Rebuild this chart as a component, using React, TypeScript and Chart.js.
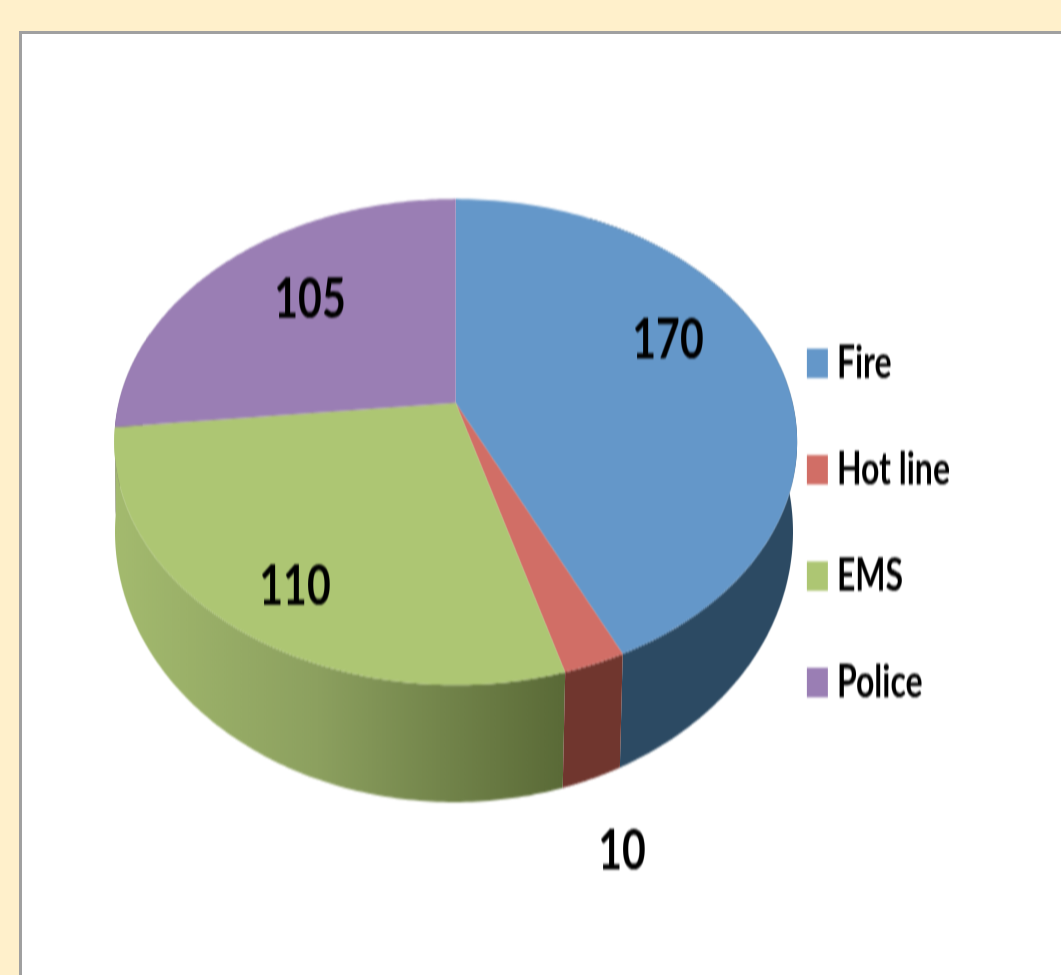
import React, { useEffect, useRef } from "react";
import { Chart, registerables } from "chart.js";

Chart.register(...registerables);

const categories = ["Fire", "Hot line", "EMS", "Police"];
const calls = [170, 10, 110, 105];
const faceColors = ["#6497C9", "#D16E66", "#ADC673", "#9A7EB4"];
const wallColors = ["#2C4A63", "#70362E", "#8A9E5E", "#6A5480"];

const STRETCH = 1.4;
const WIDTH = 1061;
const HEIGHT = 975;

// Perspective projection of the pie's unit disc to the page (page px).
const persp = -0.1605;
const topPlane = { cx: 455.7, a: 172.1, b: 403, d: 337 };
const lowPlane = { cx: 454, a: 185, b: 488.4, d: 334.6 };
function project(p: typeof topPlane, theta: number, r = 1) {
  const u = r * Math.sin(theta);
  const v = -r * Math.cos(theta);
  const w = 1 + persp * v;
  return { x: p.cx + (p.d * u) / w, y: ((p.a * v + p.b) / w) / STRETCH };
}

// Where each value label sits on the page, per slice.
const labelAnchors = [
  { x: 668, y: 340 },
  { x: 622, y: 851 },
  { x: 295, y: 586 },
  { x: 310, y: 299 },
];

const pie3d = {
  id: "pie3d",
  beforeDatasetsDraw(chart: any) {
    const ctx = chart.ctx as CanvasRenderingContext2D;
    const arcs = chart.getDatasetMeta(0).data;
    const turn = Math.PI / 2;
    const steps = 120;
    const drawOrder = [3, 0, 2, 1];
    // side walls
    for (const i of drawOrder) {
      const s = Math.max(arcs[i].startAngle + turn, 0.15 * Math.PI);
      const e = Math.min(arcs[i].endAngle + turn, 1.6 * Math.PI);
      if (e <= s) continue;
      ctx.beginPath();
      for (let k = 0; k <= steps; k++) {
        const p = project(topPlane, s + ((e - s) * k) / steps);
        k ? ctx.lineTo(p.x, p.y) : ctx.moveTo(p.x, p.y);
      }
      for (let k = steps; k >= 0; k--) {
        const p = project(lowPlane, s + ((e - s) * k) / steps);
        ctx.lineTo(p.x, p.y);
      }
      ctx.closePath();
      if (categories[i] === "EMS") {
        const g = ctx.createLinearGradient(116, 0, 562, 0);
        g.addColorStop(0, "#A3BA6E");
        g.addColorStop(0.45, "#8CA05F");
        g.addColorStop(1, "#5A6A37");
        ctx.fillStyle = g;
      } else {
        ctx.fillStyle = wallColors[i];
      }
      ctx.fill();
    }
    // top faces
    arcs.forEach((arc: any, i: number) => {
      const s = arc.startAngle + turn;
      const e = arc.endAngle + turn;
      const c = project(topPlane, 0, 0);
      ctx.beginPath();
      ctx.moveTo(c.x, c.y);
      for (let k = 0; k <= steps; k++) {
        const p = project(topPlane, s + ((e - s) * k) / steps);
        ctx.lineTo(p.x, p.y);
      }
      ctx.closePath();
      ctx.fillStyle = faceColors[i];
      ctx.fill();
    });
    // value labels
    ctx.save();
    ctx.fillStyle = "#000";
    ctx.font = 'bold 41px Lato, "Noto Sans", sans-serif';
    ctx.textAlign = "center";
    ctx.textBaseline = "middle";
    calls.forEach((v, i) => {
      ctx.fillText(String(v), labelAnchors[i].x, labelAnchors[i].y / STRETCH);
    });
    ctx.restore();
    return false;
  },
};

export default function App() {
  const ref = useRef<HTMLCanvasElement>(null);
  useEffect(() => {
    const chart = new Chart(ref.current as HTMLCanvasElement, {
      type: "pie",
      data: {
        labels: categories,
        datasets: [{ data: calls, backgroundColor: faceColors, borderWidth: 0 }],
      },
      options: {
        animation: false,
        responsive: false,
        layout: { padding: { top: 51, right: 101, bottom: 0, left: 0 } },
        plugins: {
          tooltip: { enabled: false },
          legend: {
            position: "right",
            labels: {
              usePointStyle: true,
              pointStyle: "rect",
              boxWidth: 7,
              boxHeight: 21,
              padding: 44,
              color: "#000",
              font: { family: 'Lato, "Noto Sans", sans-serif', size: 32, weight: "bold" },
            },
          },
        },
      },
      plugins: [pie3d],
    } as any);
    return () => chart.destroy();
  }, []);
  return (
    <div style={{ position: "fixed", left: 0, top: 0, width: WIDTH, height: HEIGHT, overflow: "hidden", background: "#FFF0CB" }}>
      <div style={{ position: "absolute", left: 19, top: 31, width: WIDTH, height: HEIGHT, background: "#fff", borderLeft: "3px solid #A0A0A0", borderTop: "3px solid #A0A0A0" }} />
      <div style={{ position: "absolute", left: 0, top: 0, width: WIDTH, height: HEIGHT / STRETCH, transform: `scale(1, ${STRETCH})`, transformOrigin: "0 0", filter: "blur(0.6px)" }}>
        <canvas ref={ref} width={WIDTH} height={Math.round(HEIGHT / STRETCH)} />
      </div>
    </div>
  );
}
